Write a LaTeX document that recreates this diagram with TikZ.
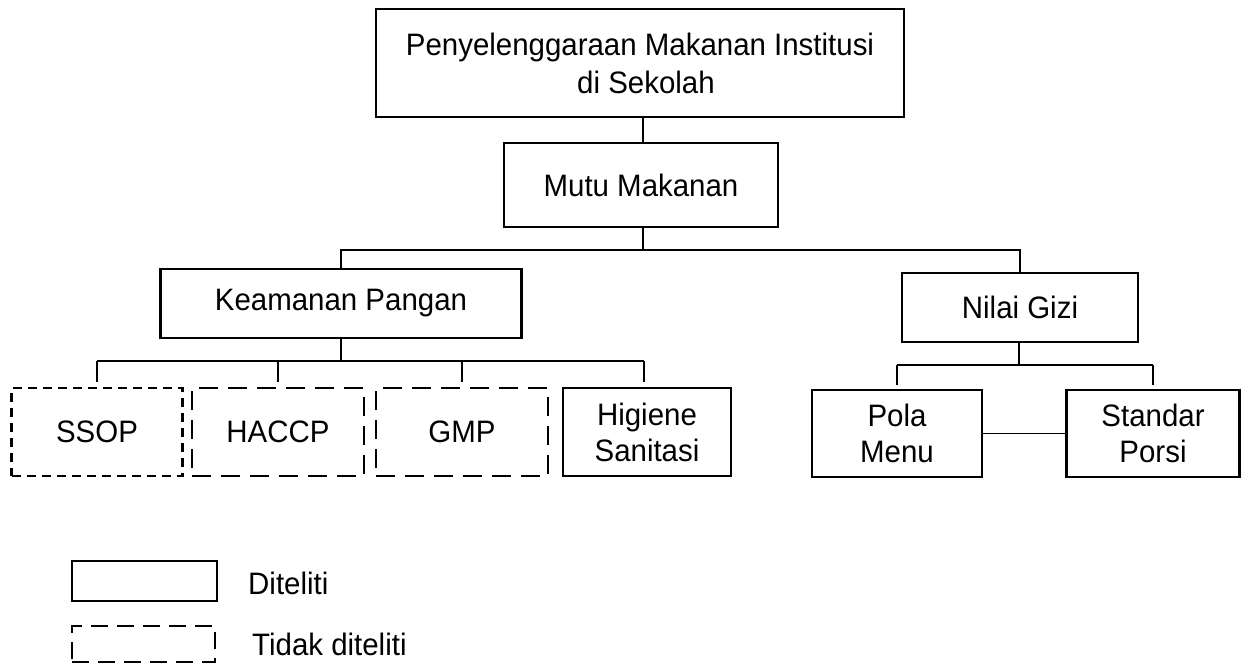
\documentclass[tikz,border=0pt]{standalone}
\usepackage{fontspec}
\setmainfont[FakeStretch=0.95]{Liberation Sans}
\begin{document}
\begin{tikzpicture}[x=1pt,y=-1pt,
  font=\fontsize{31}{36}\selectfont,
  box/.style={draw=black,line width=2.3pt,inner sep=0pt,align=center},
  shortdash/.style={box,dash pattern=on 9pt off 6pt},
  longdash/.style={box,dash pattern=on 19pt off 10pt},
  legdash/.style={box,dash pattern=on 17pt off 9pt},
  conn/.style={draw=black,line width=1.5pt},
  lbl/.style={anchor=west,inner sep=0pt}]
\useasboundingbox (0,0) rectangle (1242,665);
% boxes
\node[box,minimum width=528pt,minimum height=108pt,font=\fontsize{31}{38}\selectfont] (top) at (640,63) {Penyelenggaraan Makanan Institusi\\\hspace*{12pt}di Sekolah};
\node[box,minimum width=274pt,minimum height=84pt] (mutu) at (641,185) {Mutu Makanan};
\node[box,minimum width=361pt,minimum height=69pt] (keam) at (341,303.5) {Keamanan Pangan};
\node[box,minimum width=236pt,minimum height=69pt] (nilai) at (1020,307.5) {Nilai Gizi};
\node[shortdash,minimum width=171pt,minimum height=88pt] (ssop) at (97,432) {SSOP};
\node[longdash,minimum width=172pt,minimum height=88pt] (haccp) at (278,432) {HACCP};
\node[longdash,minimum width=172pt,minimum height=88pt] (gmp) at (462,432) {GMP};
\node[box,minimum width=168pt,minimum height=88pt] (hig) at (647,432) {Higiene\\Sanitasi};
\node[box,minimum width=170pt,minimum height=87pt] (pola) at (897,433.5) {Pola\\Menu};
\node[box,minimum width=173pt,minimum height=87pt] (std) at (1153,433.5) {Standar\\Porsi};
% buses
\coordinate (trunk) at (643,130);
\coordinate (bus1) at (643,250);
\coordinate (bus2) at (341,361);
\coordinate (bus3) at (1019,365);
\coordinate (higtick) at (644,361);
% connectors
\draw[conn] (top.south -| trunk) -- (mutu.north -| trunk);
\draw[conn] (mutu.south -| trunk) -- (bus1);
\draw[conn] (keam.north) |- (nilai.north |- bus1) -- (nilai.north);
\draw[conn] (keam.south) -- (keam.south |- bus2);
\draw[conn] (ssop.north |- bus2) -- (higtick);
\foreach \n in {ssop,haccp,gmp}
  \draw[conn,shorten >=5pt] (\n.north |- bus2) -- (\n.north);
\draw[conn,shorten >=5pt] (higtick) -- (higtick |- hig.north);
\draw[conn] (nilai.south -| bus3) -- (bus3);
\draw[conn] (pola.north |- bus3) -- (std.north |- bus3);
\foreach \n in {pola,std}
  \draw[conn,shorten >=4pt] (\n.north |- bus3) -- (\n.north);
\draw[conn] (pola.east) -- (std.west);
% legend
\node[box,minimum width=145pt,minimum height=40pt] (legsolid) at (144.5,581) {};
\node[legdash,minimum width=143pt,minimum height=36pt] (legdash) at (143.5,644) {};
\node[lbl] (lgs) at (248,583) {Diteliti};
\node[lbl] (lgd) at (252,644) {Tidak diteliti};
\end{tikzpicture}
\end{document}
